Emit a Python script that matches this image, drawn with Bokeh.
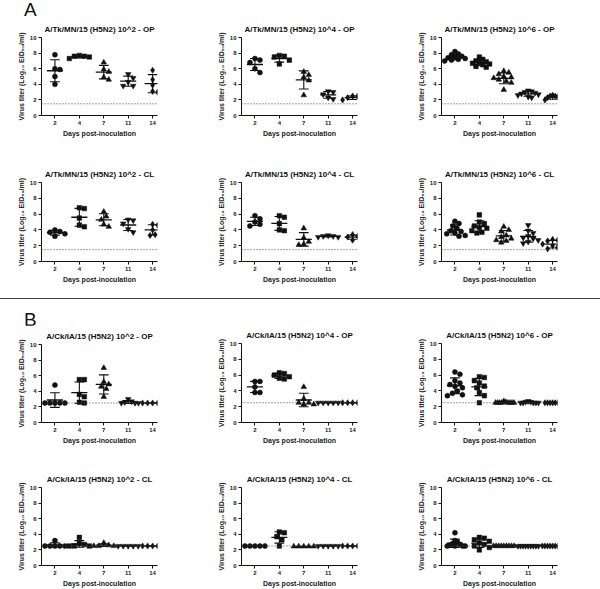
import numpy as np
from bokeh.plotting import figure
from bokeh.layouts import row, column
from bokeh.models import Span, Div, FixedTicker, Range1d
from bokeh.embed import file_html
from bokeh.resources import INLINE

days = ["2", "4", "7", "11", "14"]
markers = ["circle", "square", "triangle", "inverted_triangle", "diamond"]
marker_sizes = [5, 4.6, 5.6, 5.6, 6.2]
section_letters = ["A", "B"]

titles = [
    "A/Tk/MN/15 (H5N2) 10^2 - OP", "A/Tk/MN/15 (H5N2) 10^4 - OP", "A/Tk/MN/15 (H5N2) 10^6 - OP",
    "A/Tk/MN/15 (H5N2) 10^2 - CL", "A/Tk/MN/15 (H5N2) 10^4 - CL", "A/Tk/MN/15 (H5N2) 10^6 - CL",
    "A/Ck/IA/15 (H5N2) 10^2 - OP", "A/Ck/IA/15 (H5N2) 10^4 - OP", "A/Ck/IA/15 (H5N2) 10^6 - OP",
    "A/Ck/IA/15 (H5N2) 10^2 - CL", "A/Ck/IA/15 (H5N2) 10^4 - CL", "A/Ck/IA/15 (H5N2) 10^6 - CL",
]
lod_tk = 1.5
lod_ck = 2.5

# values per day (2, 4, 7, 11, 14)
tk_2_op = [[7.8, 6.0, 5.9, 5.0, 4.0], [7.7, 7.6, 7.6, 7.5, 7.3], [6.8, 5.9, 5.6, 4.9, 4.6],
           [5.3, 4.8, 4.3, 3.8, 3.8], [5.8, 4.6, 3.9, 3.1, 3.0]]
tk_4_op = [[7.3, 7.1, 6.8, 6.0, 5.5], [7.7, 7.6, 7.5, 7.1, 6.6], [5.6, 5.2, 4.9, 4.5, 2.6],
           [3.1, 3.0, 2.7, 2.3, 2.1], [2.5, 2.5, 2.3, 2.1, 2.0]]
tk_6_op = [[8.2, 7.9, 7.8, 7.6, 7.5, 7.4, 7.3, 7.2, 7.1, 7.0],
           [7.5, 7.2, 7.0, 6.9, 6.8, 6.7, 6.6, 6.5, 6.3, 6.2],
           [5.7, 5.5, 5.3, 5.0, 4.9, 4.8, 4.6, 4.4, 4.2, 3.3],
           [3.2, 3.1, 3.0, 2.9, 2.8, 2.7, 2.6, 2.4, 2.3],
           [2.6, 2.5, 2.5, 2.4, 2.3, 2.2, 2.0, 2.0]]
tk_2_cl = [[4.0, 3.8, 3.7, 3.5, 3.2], [6.8, 6.7, 5.5, 4.6, 4.4], [6.3, 5.7, 5.3, 4.7, 4.4],
           [5.3, 5.2, 4.8, 4.1, 3.7], [4.7, 4.6, 4.0, 3.4, 3.3]]
tk_4_cl = [[5.8, 5.4, 5.0, 4.7, 4.5], [5.8, 5.6, 4.8, 4.0, 3.9], [4.2, 3.0, 2.5, 2.2, 2.1],
           [3.3, 3.2, 3.2, 3.1, 3.1], [3.4, 3.2, 3.1, 3.0, 2.7]]
tk_6_cl = [[5.1, 4.8, 4.5, 4.2, 3.9, 3.8, 3.6, 3.5, 3.3, 3.2],
           [5.9, 5.0, 4.8, 4.5, 4.3, 4.2, 3.9, 3.7, 3.6],
           [4.4, 4.0, 3.8, 3.3, 3.1, 2.9, 2.7, 2.6, 2.4],
           [4.6, 3.9, 3.6, 3.2, 3.0, 2.9, 2.7, 2.5, 2.3],
           [2.8, 2.7, 2.6, 2.5, 2.2, 2.0, 1.8, 1.6, 1.5]]
ck_2_op = [[4.8, 2.5, 2.5, 2.5, 2.5, 2.5], [5.5, 5.5, 3.6, 3.3, 2.6, 2.5],
           [7.0, 5.2, 4.9, 4.6, 4.3, 3.3], [3.0, 2.7, 2.6, 2.5, 2.5, 2.5],
           [2.5, 2.5, 2.5, 2.5, 2.5]]
ck_4_op = [[5.2, 5.2, 4.5, 3.8, 3.8], [6.3, 6.2, 6.0, 5.8, 5.6, 5.5],
           [4.5, 3.0, 2.5, 2.5, 2.3, 2.3], [2.5, 2.5, 2.5, 2.5, 2.5],
           [2.5, 2.5, 2.5, 2.5, 2.5]]
ck_6_op = [[6.4, 6.1, 5.3, 5.0, 4.8, 4.6, 4.4, 4.0, 3.7, 3.5, 3.4],
           [5.8, 5.7, 5.3, 5.0, 4.6, 4.4, 3.8, 3.4, 2.5],
           [2.7, 2.6, 2.5, 2.5, 2.5, 2.5, 2.5, 2.5, 2.5, 2.5],
           [2.7, 2.6, 2.6, 2.5, 2.5, 2.5, 2.5, 2.5],
           [2.5, 2.5, 2.5, 2.5, 2.5, 2.5, 2.5, 2.5]]
ck_2_cl = [[3.2, 2.5, 2.5, 2.5, 2.5, 2.5], [3.6, 2.8, 2.7, 2.5, 2.5, 2.5],
           [2.9, 2.6, 2.5, 2.5, 2.5], [2.5, 2.5, 2.5, 2.5, 2.5], [2.5, 2.5, 2.5, 2.5, 2.5]]
ck_4_cl = [[2.5, 2.5, 2.5, 2.5, 2.5], [4.3, 4.2, 3.7, 3.3, 2.5], [2.45, 2.45, 2.45, 2.45, 2.45],
           [2.5, 2.5, 2.5, 2.5, 2.5], [2.5, 2.5, 2.5, 2.5, 2.5]]
ck_6_cl = [[4.2, 3.2, 3.0, 2.8, 2.7, 2.6, 2.5, 2.5, 2.5, 2.5],
           [3.6, 3.5, 3.3, 3.1, 2.9, 2.7, 2.5, 2.3, 2.0],
           [2.5, 2.5, 2.5, 2.5, 2.5, 2.5, 2.5, 2.5, 2.5],
           [2.5, 2.5, 2.5, 2.5, 2.5, 2.5, 2.5, 2.5, 2.5],
           [2.5, 2.5, 2.5, 2.5, 2.5, 2.5, 2.5, 2.5, 2.5]]

FONT = "Liberation Sans"
X0, X1 = 0.45, 5.2
FRAME_W = 116
SX = FRAME_W / (X1 - X0)
SY = 8.0


def swarm(vals, d=5.0, limit=0.42):
    vals = np.asarray(vals, float)
    order = np.argsort(-vals, kind="stable")
    cands = [0.0]
    for k in range(1, 30):
        cands += [k * d / 2, -k * d / 2]
    placed = []
    offs = np.zeros(len(vals))
    for i in order:
        py = vals[i] * SY
        for c in cands:
            if all((c - qx) ** 2 + (py - qy) ** 2 >= d * d * 0.99 for qx, qy in placed):
                break
        placed.append((c, py))
        offs[i] = c / SX
    m = np.max(np.abs(offs))
    if m > limit:
        offs *= limit / m
    return offs


def panel(title, groups, lod, height, top, bottom):
    p = figure(width=200, height=height, x_range=Range1d(X0, X1), y_range=Range1d(0, 10),
               output_backend="svg", toolbar_location=None,
               min_border_left=41, min_border_right=43,
               min_border_top=top, min_border_bottom=bottom)
    p.margin = 0
    p.outline_line_color = None
    p.grid.visible = False
    p.title.text = title
    p.title.align = "center"
    p.title.text_font = FONT
    p.title.text_font_size = "8px"
    p.title.text_font_style = "bold"
    p.title.text_color = "#111111"
    p.title.standoff = 8

    p.add_layout(Span(location=lod, dimension="width", line_color="#444444",
                      line_width=1, line_dash="1 2"))

    for i, vals in enumerate(groups):
        xc = i + 1
        v = np.asarray(vals, float)
        offs = swarm(v)
        p.scatter(xc + offs, v, marker=markers[i], size=marker_sizes[i],
                  fill_color="#111111", line_color="#111111", line_width=0.5)
        m = v.mean()
        s = v.std(ddof=1) if len(v) > 1 else 0.0
        p.segment(x0=[xc - 0.33], y0=[m], x1=[xc + 0.33], y1=[m], line_color="#111111", line_width=1.3)
        if s > 0.02:
            p.segment(x0=[xc, xc - 0.2, xc - 0.2], y0=[m - s, m + s, m - s],
                      x1=[xc, xc + 0.2, xc + 0.2], y1=[m + s, m + s, m - s],
                      line_color="#111111", line_width=1.1)

    p.xaxis.ticker = FixedTicker(ticks=[1, 2, 3, 4, 5])
    p.xaxis.major_label_overrides = {i + 1: d for i, d in enumerate(days)}
    p.yaxis.ticker = FixedTicker(ticks=[0, 2, 4, 6, 8, 10])
    p.xaxis.axis_label = "Days post-inoculation"
    p.yaxis.axis_label = "Virus titer (Log\u2081\u2080 EID\u2085\u2080/ml)"
    for ax in (p.xaxis[0], p.yaxis[0]):
        ax.axis_line_color = "#111111"
        ax.axis_line_width = 1
        ax.major_tick_line_color = "#111111"
        ax.major_tick_out = 3
        ax.major_tick_in = 0
        ax.minor_tick_line_color = None
        ax.major_label_text_font = FONT
        ax.major_label_text_font_size = "6px"
        ax.major_label_text_font_style = "bold"
        ax.major_label_text_color = "#222222"
        ax.major_label_standoff = 2
        ax.axis_label_text_font = FONT
        ax.axis_label_text_font_size = "7px"
        ax.axis_label_text_font_style = "bold"
        ax.axis_label_text_color = "#222222"
        ax.axis_label_standoff = 2
    return p


def letter_div(letter, height, pad_top):
    html = ('<div style="font-family:\'Liberation Sans\';font-size:19px;line-height:19px;'
            'color:#111111;padding-left:24px;padding-top:%dpx;overflow:visible">%s</div>'
            % (pad_top, letter))
    return Div(text=html, width=200, height=height, margin=0)


# (height, top, bottom) per row
row_dims = [(139, 37, 22), (146, 43, 23), (141, 38, 23), (143, 41, 22)]
all_groups = [tk_2_op, tk_4_op, tk_6_op, tk_2_cl, tk_4_cl, tk_6_cl,
              ck_2_op, ck_4_op, ck_6_op, ck_2_cl, ck_4_cl, ck_6_cl]
lods = [lod_tk] * 6 + [lod_ck] * 6
letter_rows = {0: (section_letters[0], 18, 0), 2: (section_letters[1], 20, 5)}

rows = []
for r in range(4):
    h, t, b = row_dims[r]
    cells = []
    for c in range(3):
        k = r * 3 + c
        if c == 0 and r in letter_rows:
            letter, dh, pad = letter_rows[r]
            fig = panel(titles[k], all_groups[k], lods[k], h - dh, t - dh, b)
            cells.append(column(letter_div(letter, dh, pad), fig, spacing=0))
        else:
            cells.append(panel(titles[k], all_groups[k], lods[k], h, t, b))
    rows.append(row(*cells, spacing=0))

divider = Div(text='<div style="height:13px"></div>'
                   '<div style="border-top:1.5px solid #444444;width:600px;height:0"></div>',
              width=600, height=20, margin=0)

layout = column(rows[0], rows[1], divider, rows[2], rows[3], spacing=0)

with open("out.html", "w") as f:
    f.write(file_html(layout, INLINE))
